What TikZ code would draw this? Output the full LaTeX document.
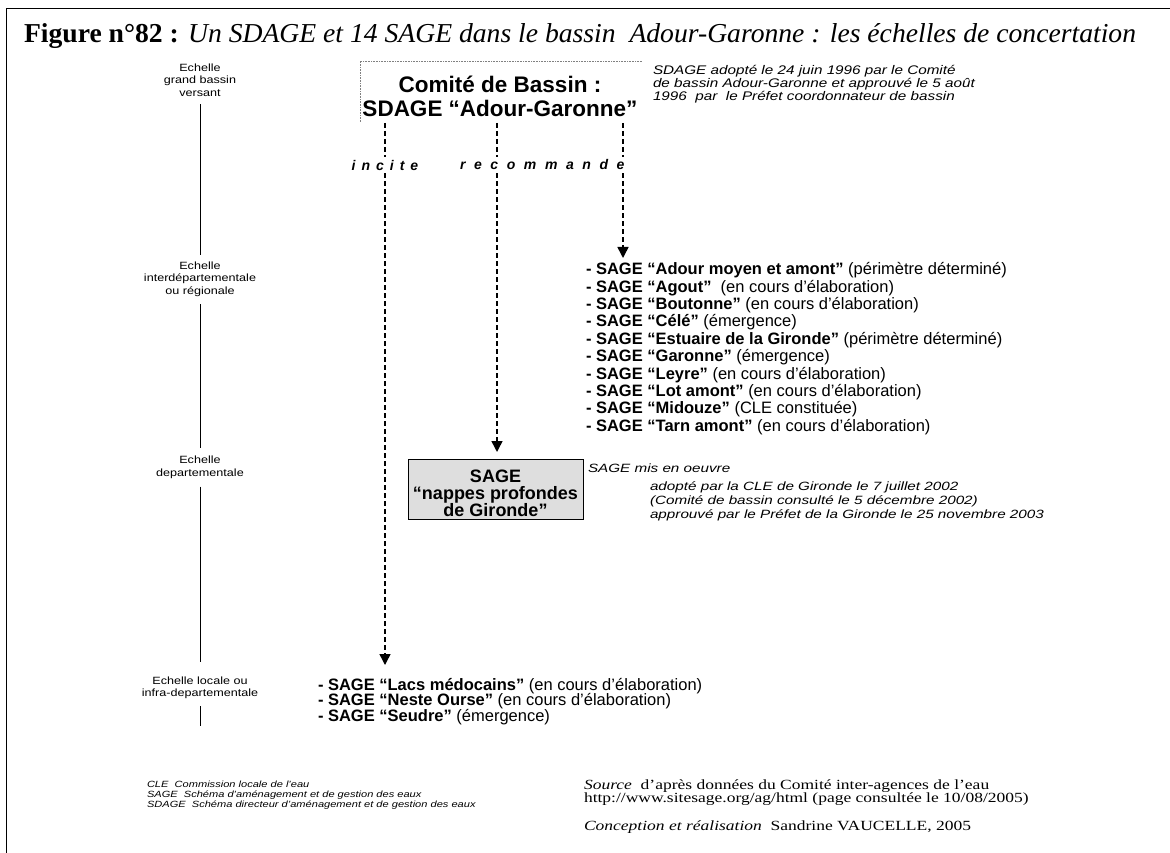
\documentclass[tikz,border=0pt]{standalone}
\usepackage{fontspec}
\setmainfont{Liberation Serif}
\setsansfont{Liberation Sans}
\usepackage{graphicx}
\usetikzlibrary{arrows.meta}
\newcommand\hs[2]{\scalebox{#1}[1]{#2}}
\newcommand\fsz[2]{\fontsize{#1}{#2}\selectfont}
\begin{document}
\begin{tikzpicture}[x=1pt,y=-1pt,
  every node/.style={inner sep=0pt,outer sep=0pt},
  lab/.style={font=\sffamily\fsz{10.5}{12.5},align=center},
  item/.style={anchor=base west,font=\sffamily\fsz{16.5}{18}},
  note/.style={anchor=base west,font=\sffamily\itshape\fsz{12.5}{14}},
  subnote/.style={anchor=base west,font=\sffamily\itshape\fsz{12}{14}},
  abbr/.style={anchor=base west,font=\sffamily\itshape\fsz{9}{10}},
  src/.style={anchor=base west,font=\rmfamily\fsz{14}{16}},
  scaleline/.style={line width=1pt},
  dl/.style={line width=1.5pt,dash pattern=on 5pt off 3pt},
  tip/.style={-{Triangle[width=11pt,length=11pt]}},
  verb/.style={font=\sffamily\bfseries\itshape\fsz{14}{16}}
]
\useasboundingbox (0,0) rectangle (1170,853);
% frame
\draw[line width=1pt] (6,853) -- (6,9) -- (1170,9);
% title
\node[anchor=base west] (title) at (24,43) {\resizebox{1112pt}{19pt}{\fsz{20}{24}\textbf{Figure n°82 :} \textit{Un SDAGE et 14 SAGE dans le bassin \ Adour-Garonne : les échelles de concertation}}};

% scale labels
\node[lab] (e1) at (200,80) {\hs{1.2}{Echelle}\\\hs{1.2}{grand bassin}\\\hs{1.2}{versant}};
\node[lab] (e2) at (200,279) {\hs{1.2}{Echelle}\\\hs{1.2}{interdépartementale}\\\hs{1.2}{ou régionale}};
\node[lab] (e3) at (200,467.5) {\hs{1.2}{Echelle}\\\hs{1.2}{departementale}};
\node[lab] (e4) at (200,688) {\hs{1.2}{Echelle locale ou}\\\hs{1.2}{infra-departementale}};
\coordinate (e5) at (200,726);
\draw[scaleline,shorten <=8pt,shorten >=7pt] (e1) -- (e2);
\draw[scaleline,shorten <=8pt,shorten >=8pt] (e2) -- (e3);
\draw[scaleline,shorten <=8pt,shorten >=15pt] (e3) -- (e4);
\draw[scaleline,shorten <=7pt] (e4) -- (e5);

% Comite de bassin
\node[minimum width=282pt,minimum height=61pt] (comite) at (501,91.5) {};
\draw[gray,densely dotted,line width=0.6pt] (comite.south west) -- (comite.north west) -- (comite.north east);
\node[align=center,font=\sffamily\bfseries\fsz{22.5}{24}] (ctext) at (500,96) {Comité de Bassin :\\SDAGE “Adour-Garonne”};
\node[note] (t1) at (653,75) {\hs{1.22}{SDAGE adopté le 24 juin 1996 par le Comité}};
\node[note] (t2) at (653,88) {\hs{1.22}{de bassin Adour-Garonne et approuvé le 5 août}};
\node[note] (t3) at (653,101) {\hs{1.22}{1996 \ par \ le Préfet coordonnateur de bassin}};

% verbs
\node[verb] (inc) at (385,165) {i\hspace{6pt}n\hspace{6pt}c\hspace{6pt}i\hspace{6pt}t\hspace{6pt}e};
\node[verb,anchor=west] (rec) at (460,165) {r\hspace{8.6pt}e\hspace{8.6pt}c\hspace{8.6pt}o\hspace{8.6pt}m\hspace{8.6pt}m\hspace{8.6pt}a\hspace{8.6pt}n\hspace{8.6pt}d\hspace{8.6pt}e};

\coordinate (iTop) at (385,123);
\coordinate (rTop) at (497,123);
\coordinate (qTop) at (623,123);
\coordinate (iEnd) at (385,665);
\coordinate (rEnd) at (497,452);
\coordinate (qEnd) at (623,258);
\draw[dl,shorten >=3pt] (iTop) -- (inc);
\draw[dl,tip,shorten <=3pt] (inc) -- (iEnd);
\draw[dl,shorten >=3pt] (rTop) -- (rTop |- rec.north);
\draw[dl,tip,shorten <=3pt] (rTop |- rec.south) -- (rEnd);
\draw[dl,shorten >=3pt] (qTop) -- (qTop |- rec.north);
\draw[dl,tip,shorten <=3pt] (qTop |- rec.south) -- (qEnd);

% regional list
\foreach \b/\r [count=\k] in {{Adour moyen et amont}/{(périmètre déterminé)},
  {Agout}/{\ (en cours d’élaboration)},
  {Boutonne}/{(en cours d’élaboration)},
  {Célé}/{(émergence)},
  {Estuaire de la Gironde}/{(périmètre déterminé)},
  {Garonne}/{(émergence)},
  {Leyre}/{(en cours d’élaboration)},
  {Lot amont}/{(en cours d’élaboration)},
  {Midouze}/{(CLE constituée)},
  {Tarn amont}/{(en cours d’élaboration)}}
  \node[item] (sl\k) at (586,{274.7+17.4*(\k-1)}) {\textbf{- SAGE “\b”} \r};

% departmental SAGE
\node[draw,line width=0.8pt,fill=black!13,minimum width=175pt,minimum height=60pt] (sagebox) at (495.5,489) {};
\node[align=center,font=\sffamily\bfseries\fsz{18}{17}] (sagetxt) at (495.5,493) {SAGE\\“nappes profondes\\de Gironde”};
\node[subnote] (m0) at (588,472) {\hs{1.27}{SAGE mis en oeuvre}};
\node[subnote] (m1) at (650,490) {\hs{1.27}{adopté par la CLE de Gironde le 7 juillet 2002}};
\node[subnote] (m2) at (650,504) {\hs{1.27}{(Comité de bassin consulté le 5 décembre 2002)}};
\node[subnote] (m3) at (650,518) {\hs{1.27}{approuvé par le Préfet de la Gironde le 25 novembre 2003}};

% local list
\node[item] (lo1) at (318,690) {\textbf{- SAGE “Lacs médocains”} (en cours d’élaboration)};
\node[item] (lo2) at (318,705.5) {\textbf{- SAGE “Neste Ourse”} (en cours d’élaboration)};
\node[item] (lo3) at (318,721) {\textbf{- SAGE “Seudre”} (émergence)};

% abbreviations
\node[abbr] (a1) at (147,787) {\hs{1.23}{CLE \ Commission locale de l’eau}};
\node[abbr] (a2) at (147,797) {\hs{1.23}{SAGE \ Schéma d’aménagement et de gestion des eaux}};
\node[abbr] (a3) at (147,807) {\hs{1.23}{SDAGE \ Schéma directeur d’aménagement et de gestion des eaux}};

% source
\node[src] (s1) at (584,789) {\hs{1.25}{\textit{Source} \ d’après données du Comité inter-agences de l’eau}};
\node[src] (s2) at (584,802) {\hs{1.25}{http://www.sitesage.org/ag/html (page consultée le 10/08/2005)}};
\node[src] (s3) at (584,830) {\hs{1.25}{\textit{Conception et réalisation} \ Sandrine VAUCELLE, 2005}};
\end{tikzpicture}
\end{document}
